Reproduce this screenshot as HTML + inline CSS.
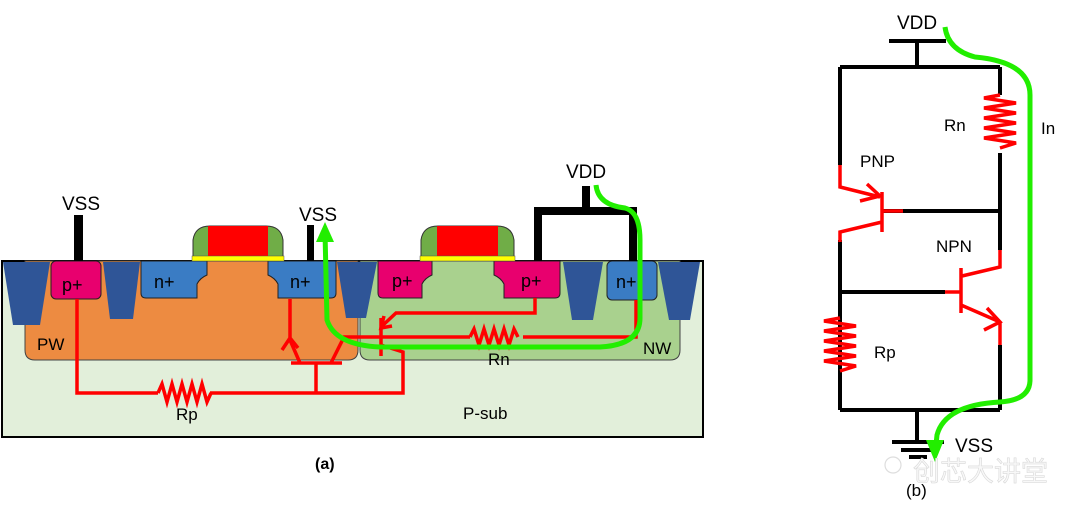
<!DOCTYPE html>
<html><head><meta charset="utf-8"><style>
html,body{margin:0;padding:0;background:#fff;}
svg{display:block;}
text{font-family:"Liberation Sans","Noto Sans CJK SC",sans-serif;fill:#000;}
</style></head><body>
<svg width="1080" height="517" viewBox="0 0 1080 517" xmlns="http://www.w3.org/2000/svg">
<rect x="2" y="261" width="701" height="176" fill="#e2efda" stroke="#000" stroke-width="2"/>
<path d="M25 261 H358 V350 Q358 360 348 360 H35 Q25 360 25 350 Z" fill="#ed8b41" stroke="#444" stroke-width="1"/>
<path d="M360 261 H680 V350 Q680 360 670 360 H370 Q360 360 360 350 Z" fill="#a9d18e" stroke="#444" stroke-width="1"/>
<g fill="#2f5597">
<polygon points="3,262 50,262 40,325 13,325"/>
<polygon points="103,262 140,262 133,319 110,319"/>
<polygon points="337,262 377,262 366,318 346,318"/>
<polygon points="563,262 603,262 593,320 572,320"/>
<polygon points="658,262 700,262 690,320 669,320"/>
</g>
<g stroke="#222" stroke-width="1">
<rect x="51" y="261" width="50" height="38" rx="5" fill="#e8006e"/>
<path d="M141 261 H207 V275 Q200 278 197 284 V298 H146 Q141 298 141 293 Z" fill="#3a7cc4"/>
<path d="M336 261 H268 V275 Q275 278 278 284 V298 H331 Q336 298 336 293 Z" fill="#3a7cc4"/>
<path d="M378 261 H432 V275 Q425 278 422 284 V298 H383 Q378 298 378 293 Z" fill="#e8006e"/>
<path d="M560 261 H494 V275 Q501 278 504 284 V298 H555 Q560 298 560 293 Z" fill="#e8006e"/>
<rect x="607" y="261" width="50" height="39" rx="5" fill="#3a7cc4"/>
</g>
<path d="M193 257 V240 Q195 226 210 226 H266 Q281 226 283 240 V257 Z" fill="#70ad47" stroke="#333" stroke-width="1"/>
<rect x="208" y="226" width="60" height="31" fill="#ff0000"/>
<rect x="192" y="256" width="92" height="5" fill="#ffff00" stroke="#555" stroke-width="0.5"/>
<path d="M421 257 V240 Q423 226 438 226 H497 Q512 226 514 240 V257 Z" fill="#70ad47" stroke="#333" stroke-width="1"/>
<rect x="437" y="226" width="61" height="31" fill="#ff0000"/>
<rect x="420" y="256" width="95" height="5" fill="#ffff00" stroke="#555" stroke-width="0.5"/>
<rect x="74" y="215" width="9" height="46" fill="#000"/>
<rect x="307" y="225" width="7" height="36" fill="#000"/>
<path d="M586 186 V211 M538 261 V211 H633 V261" fill="none" stroke="#000" stroke-width="8"/>
<g fill="none" stroke="#ff0000" stroke-width="3.5">
<path d="M77 299 V393 H158 M210 393 H403 V352 L381 345"/>
<path d="M158 393 l4 -9 l5 18 l5 -18 l5 18 l5 -18 l5 18 l5 -18 l5 18 l5 -18 l5 18 l4 -9"/>
<path d="M291 363 H342 M316 363 V393"/>
<path d="M300 363 L290 340 V299 M282 350 L290 338 L298 348"/>
<path d="M331 363 L344 337 H470 M523 337 H636 V300"/>
<path d="M470 337 l4 -8 l5 16 l5 -16 l5 16 l5 -16 l5 16 l5 -16 l5 16 l5 -16 l4 8"/>
<path d="M381 318 V356"/>
<path d="M535 298 V313 H396 L381 327 M384 316 L381 328 L392 326"/>
</g>
<path d="M596 185 Q598 205 625 208 Q640 212 640 240 V318 Q640 345 600 347 H380 Q335 345 327 320 L325 232" fill="none" stroke="#22ee00" stroke-width="5"/>
<polygon points="325,222 316,242 334,242" fill="#22ee00"/>
<text x="62" y="210" font-size="19">VSS</text>
<text x="299" y="221" font-size="19">VSS</text>
<text x="566" y="178" font-size="19">VDD</text>
<text x="62" y="291" font-size="18">p+</text>
<text x="154" y="288" font-size="18">n+</text>
<text x="290" y="288" font-size="18">n+</text>
<text x="392" y="287" font-size="18">p+</text>
<text x="521" y="287" font-size="18">p+</text>
<text x="616" y="288" font-size="18">n+</text>
<text x="37" y="350" font-size="17">PW</text>
<text x="643" y="354" font-size="17">NW</text>
<text x="488" y="365" font-size="17">Rn</text>
<text x="176" y="420" font-size="17">Rp</text>
<text x="463" y="419" font-size="17">P-sub</text>
<text x="315" y="469" font-size="16" font-weight="bold">(a)</text>
<g fill="none" stroke="#000" stroke-width="4">
<path d="M889 41 H946 M917 41 V67 M840 67 H1000 M840 67 V165 M1000 67 V95 M1000 153 V250 M882 211 H1000 M840 240 V410 M840 292 H945 M1000 345 V410 M840 410 H1000 M917 410 V442"/>
<path d="M892 442 H944 M901 450 H935 M909 457 H927"/>
</g>
<g fill="none" stroke="#ff0000" stroke-width="3.5">
<path d="M840 165 V187 L880 197 M860 201 L880 196 L867 184"/>
<path d="M882 192 V232 M882 211 H903 M882 222 L840 232 V242"/>
<path d="M1000 250 V267 L962 276 M961 268 V313 M945 292 H961 M961 305 L1000 322 M984 330 L1000 322 L987 308 M1000 322 V345"/>
<path d="M1000 95 l-16 3 l32 5 l-32 5 l32 5 l-32 5 l32 5 l-32 5 l32 5 l-32 5 l32 5 l-16 5"/>
<path d="M840 318 l-16 3 l32 5 l-32 5 l32 5 l-32 5 l32 5 l-32 5 l32 5 l-32 5 l32 5 l-16 5"/>
</g>
<path d="M945 27 Q948 50 975 57 Q1030 62 1030 95 V380 Q1030 400 1000 402 Q945 405 937 435 L936 445" fill="none" stroke="#22ee00" stroke-width="5"/>
<polygon points="935,462 926,440 944,440" fill="#22ee00"/>
<text x="897" y="29" font-size="19">VDD</text>
<text x="944" y="131" font-size="17">Rn</text>
<text x="1041" y="134" font-size="17">In</text>
<text x="860" y="167" font-size="17">PNP</text>
<text x="936" y="252" font-size="17">NPN</text>
<text x="874" y="358" font-size="17">Rp</text>
<text x="955" y="452" font-size="19">VSS</text>
<text x="906" y="496" font-size="17">(b)</text>
<text x="913" y="481" font-size="27" style="fill:#f8f8f8;stroke:#d8d8d8;stroke-width:0.6">创芯大讲堂</text>
<circle cx="893" cy="465" r="8" fill="none" stroke="#dddddd" stroke-width="1.2"/>
</svg>
</body></html>
